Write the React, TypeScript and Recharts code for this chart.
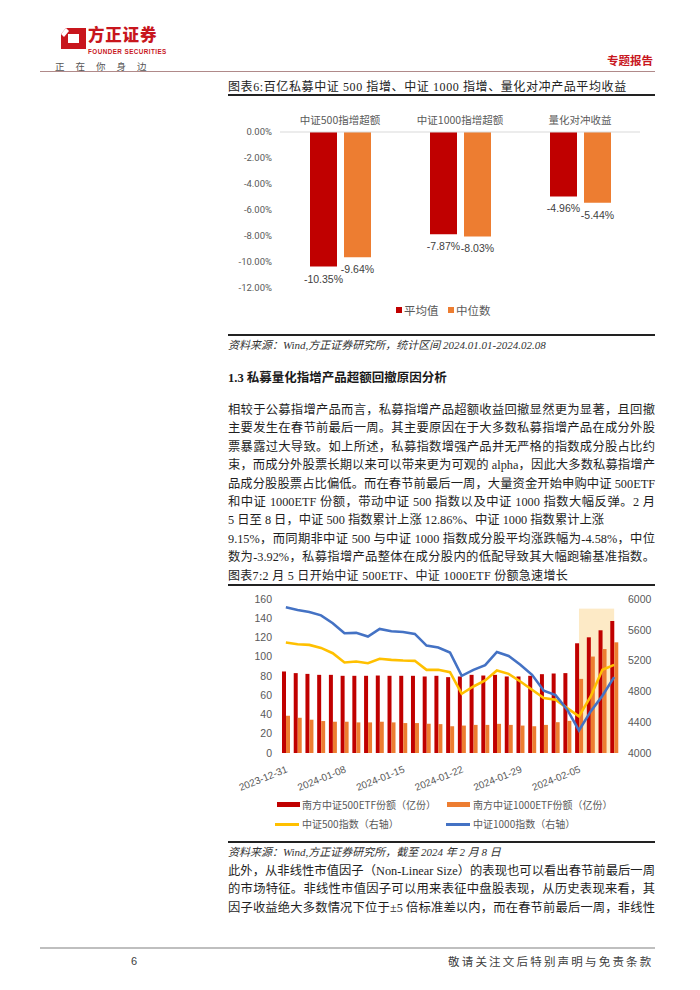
import React from 'react';
import { BarChart, Bar, XAxis, YAxis, LabelList, ComposedChart, Line, ReferenceArea } from 'recharts';

// ---------- Chart 6 data ----------
const chart6Categories = ['中证500指增超额', '中证1000指增超额', '量化对冲收益'];
const chart6Mean = [-10.35, -7.87, -4.96];
const chart6Median = [-9.64, -8.03, -5.44];
const chart6Ticks = [0, -2, -4, -6, -8, -10, -12];

// ---------- Chart 7 data ----------
const chart7Dates = [
  '2023-12-31', '2024-01-02', '2024-01-03', '2024-01-04', '2024-01-05',
  '2024-01-08', '2024-01-09', '2024-01-10', '2024-01-11', '2024-01-12',
  '2024-01-15', '2024-01-16', '2024-01-17', '2024-01-18', '2024-01-19',
  '2024-01-22', '2024-01-23', '2024-01-24', '2024-01-25', '2024-01-26',
  '2024-01-29', '2024-01-30', '2024-01-31', '2024-02-01', '2024-02-02',
  '2024-02-05', '2024-02-06', '2024-02-07', '2024-02-08',
];
const etf500Shares = [84.7, 83, 82.2, 81.2, 81.2, 80.2, 80.2, 80.2, 80.5, 80.2, 80.2, 80.2, 79.5, 80.2, 78.8, 79.5, 81.2, 80.5, 81.2, 79.5, 79.5, 80.2, 81.9, 82.6, 83, 114, 120.2, 127.5, 137.2];
const etf1000Shares = [38.7, 36.6, 34.6, 33.2, 32.5, 32.5, 31.8, 31.8, 32.5, 31.8, 31.1, 31.1, 30.4, 30.0, 27.8, 28.5, 29.2, 29.2, 30.3, 29.2, 28.5, 27.8, 29.2, 32, 33.4, 77, 100.2, 108, 115];
const csi500Index = [5434, 5413, 5404, 5365, 5296, 5175, 5188, 5166, 5223, 5210, 5201, 5197, 5080, 5080, 5050, 4769, 4864, 4942, 5071, 5028, 4929, 4821, 4713, 4691, 4583, 4475, 4734, 5080, 5145];
const csi1000Index = [5892, 5858, 5832, 5788, 5685, 5555, 5560, 5512, 5611, 5581, 5572, 5547, 5395, 5369, 5305, 5002, 5080, 5140, 5313, 5261, 5145, 5015, 4808, 4752, 4562, 4294, 4540, 4743, 4985];
const leftTicks = [0, 20, 40, 60, 80, 100, 120, 140, 160];
const rightTicks = [4000, 4200, 4400, 4600, 4800, 5000, 5200, 5400, 5600, 5800, 6000];
const highlightStart = '2024-02-05';
const highlightEnd = '2024-02-08';
const highlightTop = 150;

const chart6Data = chart6Categories.map((c, i) => ({ name: c, mean: chart6Mean[i], median: chart6Median[i] }));
const chart7Data = chart7Dates.map((d, i) => ({
  date: d,
  etf500: etf500Shares[i],
  etf1000: etf1000Shares[i],
  csi500: csi500Index[i],
  csi1000: csi1000Index[i],
}));

const RED = '#C00000';
const ORANGE = '#ED7D31';
const YELLOW = '#FFC000';
const BLUE = '#4472C4';
const CJK = '"Noto Sans CJK SC", "Noto Sans", sans-serif';
const BODY = '"Liberation Serif", "Noto Sans CJK SC", serif';

const paragraph1 = [
  '相较于公募指增产品而言，私募指增产品超额收益回撤显然更为显著，且回撤',
  '主要发生在春节前最后一周。其主要原因在于大多数私募指增产品在成分外股',
  '票暴露过大导致。如上所述，私募指数增强产品并无严格的指数成分股占比约',
  '束，而成分外股票长期以来可以带来更为可观的 alpha，因此大多数私募指增产',
  '品成分股股票占比偏低。而在春节前最后一周，大量资金开始申购中证 500ETF',
  '和中证 1000ETF 份额，带动中证 500 指数以及中证 1000 指数大幅反弹。2 月',
  '5 日至 8 日，中证 500 指数累计上涨 12.86%、中证 1000 指数累计上涨',
  '9.15%，而同期非中证 500 与中证 1000 指数成分股平均涨跌幅为-4.58%，中位',
  '数为-3.92%，私募指增产品整体在成分股内的低配导致其大幅跑输基准指数。',
];
const paragraph1Justify = [true, true, true, true, true, true, false, true, true];
const paragraph2 = [
  '此外，从非线性市值因子（Non-Linear Size）的表现也可以看出春节前最后一周',
  '的市场特征。非线性市值因子可以用来表征中盘股表现，从历史表现来看，其',
  '因子收益绝大多数情况下位于±5 倍标准差以内，而在春节前最后一周，非线性',
];

const BelowLabel = (props: any) => {
  const { x, y, width, height, value } = props;
  const bottom = Math.max(Number(y), Number(y) + Number(height));
  return (
    <text x={Number(x) + Number(width) / 2} y={bottom + 16} textAnchor="middle" fontSize={10.5} fill="#404040" fontFamily='"Liberation Sans", sans-serif'>
      {Number(value).toFixed(2)}%
    </text>
  );
};

const DateTick = (props: any) => {
  const { x, y, payload } = props;
  return (
    <g transform={`translate(${x},${y})`}>
      <text x={-2} y={0} dy={11} textAnchor="end" transform="rotate(-22)" fontSize={10} fill="#595959" fontFamily='"Liberation Sans", sans-serif'>
        {payload.value}
      </text>
    </g>
  );
};

const HighlightShape = (props: any) => {
  const { x, y, width, height } = props;
  const half = width / 8; // half a category band (area spans 4 bands)
  return <rect x={x + half} y={y} width={width - 2 * half} height={height} fill="#FDEAC6" />;
};

const abs = (l: number, t: number, extra: any = {}) => ({ position: 'absolute' as const, left: l, top: t, ...extra });

export default function App() {
  return (
    <div style={{ position: 'absolute', left: 0, top: 0, width: 700, height: 990, background: '#fff', overflow: 'hidden', fontFamily: CJK }}>
      {/* Header */}
      <svg style={abs(60, 28)} width={28} height={22}>
        <path d="M6 0 L26 0 L26 21 L1 21 L1 6 Z M8 6 L8 15 L19 15 L19 6 Z" fill="#C8161D" fillRule="evenodd" />
        <path d="M1 6 L6 0 L9 3 L4 9 Z" fill="#fff" />
      </svg>
      <div style={abs(88, 26, { fontSize: 16.5, fontWeight: 900, color: '#C8161D', letterSpacing: 0.8, lineHeight: '17px' })}>方正证券</div>
      <div style={abs(88, 47.5, { fontSize: 6.3, fontWeight: 700, color: '#C8161D', fontFamily: '"Liberation Sans", sans-serif', lineHeight: '7px', letterSpacing: 0.45 })}>FOUNDER SECURITIES</div>
      <div style={abs(55, 60, { fontSize: 9.5, color: '#555', lineHeight: '12px', letterSpacing: 11 })}>正在你身边</div>
      <div style={abs(607, 52, { fontSize: 11.5, fontWeight: 700, color: '#C8161D', lineHeight: '16px' })}>专题报告</div>
      <div style={abs(40, 71, { width: 615, height: 1, background: '#B08A8A' })} />

      {/* Chart 6 title */}
      <div style={abs(228, 79, { fontSize: 12, color: '#222', lineHeight: '16px', letterSpacing: 0.6, fontFamily: BODY })}>图表6:百亿私募中证 500 指增、中证 1000 指增、量化对冲产品平均收益</div>
      <div style={abs(228, 94, { width: 427, height: 2, background: '#222' })} />

      <div style={abs(220, 95)}>
        <BarChart width={430} height={223} data={chart6Data} margin={{ top: 10, right: 10, bottom: 30, left: 0 }} barSize={27} barGap={7}>
          <XAxis dataKey="name" orientation="top" height={27} axisLine={{ stroke: '#D9D9D9' }} tickLine={false}
            tick={{ fontSize: 10.5, fill: '#595959', fontFamily: CJK }} interval={0} />
          <YAxis domain={[-12, 0]} ticks={chart6Ticks} width={60} axisLine={false} tickLine={false}
            tickFormatter={(v: number) => `${v.toFixed(2)}%`} tick={{ fontSize: 9.5, fill: '#595959', fontFamily: 'Roboto, sans-serif' }} />
          <Bar dataKey="mean" fill={RED} isAnimationActive={false}>
            <LabelList dataKey="mean" content={BelowLabel} />
          </Bar>
          <Bar dataKey="median" fill={ORANGE} isAnimationActive={false}>
            <LabelList dataKey="median" content={BelowLabel} />
          </Bar>
        </BarChart>
      </div>
      {/* Chart 6 legend */}
      <div style={abs(396, 307, { width: 6, height: 6, background: RED })} />
      <div style={abs(404, 302, { fontSize: 11.5, color: '#595959', lineHeight: '16px' })}>平均值</div>
      <div style={abs(448, 307, { width: 6, height: 6, background: ORANGE })} />
      <div style={abs(456, 302, { fontSize: 11.5, color: '#595959', lineHeight: '16px' })}>中位数</div>

      <div style={abs(228, 334, { width: 427, height: 1.5, background: '#222' })} />
      <div style={abs(228, 337, { fontSize: 11, color: '#333', fontStyle: 'italic', lineHeight: '16px', fontFamily: BODY })}>资料来源：Wind,方正证券研究所，统计区间 2024.01.01-2024.02.08</div>

      <div style={abs(228, 369, { fontSize: 12.5, fontWeight: 700, color: '#1a1a1a', lineHeight: '18px', fontFamily: BODY })}>1.3 私募量化指增产品超额回撤原因分析</div>

      {paragraph1.map((line, i) => (
        <div key={i} style={abs(228, 401 + i * 18.4, {
          width: 427, fontSize: 12.3, color: '#1f1f1f', lineHeight: '18px', whiteSpace: 'nowrap', fontFamily: BODY,
          textAlign: paragraph1Justify[i] ? 'justify' : 'left', textAlignLast: paragraph1Justify[i] ? 'justify' : 'left',
        })}>{line}</div>
      ))}

      <div style={abs(228, 567, { fontSize: 12, color: '#222', lineHeight: '18px', letterSpacing: 0.3, fontFamily: BODY })}>图表7:2 月 5 日开始中证 500ETF、中证 1000ETF 份额急速增长</div>
      <div style={abs(228, 584, { width: 427, height: 2, background: '#222' })} />

      <div style={abs(225, 585)}>
        <ComposedChart width={430} height={215} data={chart7Data} margin={{ top: 14, right: 0, bottom: 7, left: 0 }} barSize={4} barGap={0}>
          <XAxis dataKey="date" height={40} interval={4} tickLine={false} axisLine={false} tick={<DateTick />} />
          <YAxis yAxisId="left" domain={[0, 160]} ticks={leftTicks} width={55} axisLine={false} tickLine={false}
            tick={{ fontSize: 10.5, fill: '#595959', fontFamily: '"Liberation Sans", sans-serif' }} />
          <YAxis yAxisId="right" orientation="right" domain={[4000, 6000]} ticks={rightTicks} width={35} axisLine={false} tickLine={false}
            tick={{ fontSize: 10.5, fill: '#595959', fontFamily: '"Liberation Sans", sans-serif', textAnchor: 'start' }} />
          <ReferenceArea yAxisId="left" x1={highlightStart} x2={highlightEnd} y1={0} y2={highlightTop} shape={HighlightShape} ifOverflow="visible" />
          <Bar yAxisId="left" dataKey="etf500" fill={RED} isAnimationActive={false} />
          <Bar yAxisId="left" dataKey="etf1000" fill={ORANGE} isAnimationActive={false} />
          <Line yAxisId="right" dataKey="csi500" stroke={YELLOW} strokeWidth={2.6} dot={false} isAnimationActive={false} type="linear" />
          <Line yAxisId="right" dataKey="csi1000" stroke={BLUE} strokeWidth={2.6} dot={false} isAnimationActive={false} type="linear" />
        </ComposedChart>
      </div>

      {/* Chart 7 legend */}
      <div style={abs(277, 802, { width: 23, height: 5, background: RED })} />
      <div style={abs(302, 797, { fontSize: 10, color: '#595959', lineHeight: '16px' })}>南方中证500ETF份额（亿份）</div>
      <div style={abs(447, 802, { width: 23, height: 5, background: ORANGE })} />
      <div style={abs(473, 797, { fontSize: 10, color: '#595959', lineHeight: '16px' })}>南方中证1000ETF份额（亿份）</div>
      <div style={abs(275, 823, { width: 24, height: 2.5, background: YELLOW })} />
      <div style={abs(302, 816, { fontSize: 10, color: '#595959', lineHeight: '16px' })}>中证500指数（右轴）</div>
      <div style={abs(446, 823, { width: 24, height: 2.5, background: BLUE })} />
      <div style={abs(473, 816, { fontSize: 10, color: '#595959', lineHeight: '16px' })}>中证1000指数（右轴）</div>

      <div style={abs(228, 841, { width: 427, height: 1.5, background: '#222' })} />
      <div style={abs(228, 844, { fontSize: 11, color: '#333', fontStyle: 'italic', lineHeight: '16px', fontFamily: BODY })}>资料来源：Wind,方正证券研究所，截至 2024 年 2 月 8 日</div>

      {paragraph2.map((line, i) => (
        <div key={i} style={abs(228, 862 + i * 18.4, {
          width: 427, fontSize: 12.3, color: '#1f1f1f', lineHeight: '18px', whiteSpace: 'nowrap', fontFamily: BODY,
          textAlign: 'justify', textAlignLast: 'justify',
        })}>{line}</div>
      ))}

      {/* Footer */}
      <div style={abs(40, 947, { width: 615, height: 1.5, background: '#BFBFBF' })} />
      <div style={abs(131, 953, { fontSize: 11, color: '#404040', lineHeight: '16px', fontFamily: '"Liberation Sans", sans-serif' })}>6</div>
      <div style={abs(448, 953, { fontSize: 11.5, color: '#404040', lineHeight: '16px', letterSpacing: 2.2 })}>敬请关注文后特别声明与免责条款</div>
    </div>
  );
}
